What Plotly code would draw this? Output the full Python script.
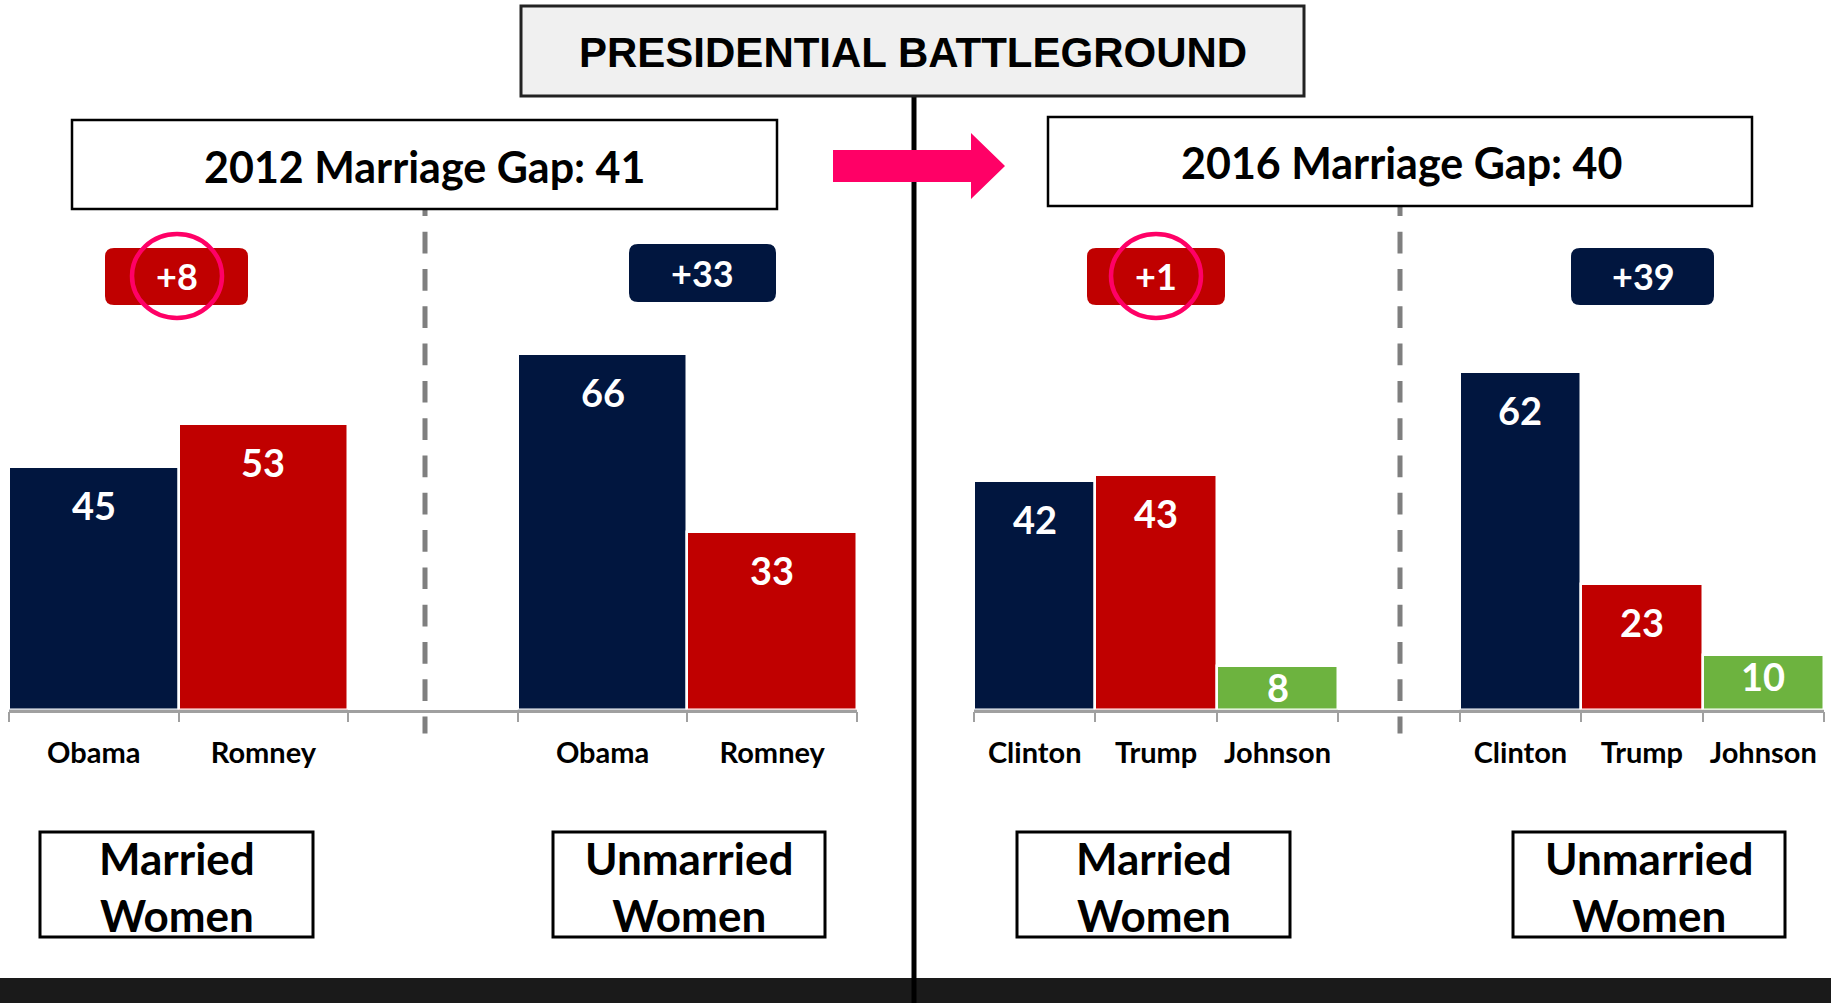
import plotly.graph_objects as go

# ---------------- data ----------------
title_text = "PRESIDENTIAL BATTLEGROUND"
years = [2012, 2016]
marriage_gaps = [41, 40]
group_labels = ["Married<br>Women", "Unmarried<br>Women"]

cands_2012 = ["Obama", "Romney"]
married_2012 = [45, 53]
unmarried_2012 = [66, 33]
margins_2012 = ["+8", "+33"]

cands_2016 = ["Clinton", "Trump", "Johnson"]
married_2016 = [42, 43, 8]
unmarried_2016 = [62, 23, 10]
margins_2016 = ["+1", "+39"]

NAVY = "#01163f"
RED = "#c00000"
GREEN = "#6db33f"
PINK = "#ff0066"
party_colors = {"Obama": NAVY, "Clinton": NAVY, "Romney": RED, "Trump": RED, "Johnson": GREEN}

# ---------------- helpers ----------------
W, H = 1831, 1003
FONT = "Lato, 'Open Sans', sans-serif"
TFONT = "'Liberation Sans', Arial, sans-serif"


def fx(p):
    return p / W


def fy(p):
    return 1 - p / H


shapes = []
annotations = []


def rect(x0, y0, x1, y1, fill="white", line="black", lw=3):
    shapes.append(dict(type="rect", xref="paper", yref="paper", x0=fx(x0), x1=fx(x1),
                       y0=fy(y1), y1=fy(y0), fillcolor=fill, line=dict(color=line, width=lw)))


def rounded(x0, y0, x1, y1, r, fill):
    rx, ry = r / W, r / H
    X0, X1, Y0, Y1 = fx(x0), fx(x1), fy(y1), fy(y0)
    path = (f"M {X0+rx},{Y0} L {X1-rx},{Y0} Q {X1},{Y0} {X1},{Y0+ry} "
            f"L {X1},{Y1-ry} Q {X1},{Y1} {X1-rx},{Y1} L {X0+rx},{Y1} Q {X0},{Y1} {X0},{Y1-ry} "
            f"L {X0},{Y0+ry} Q {X0},{Y0} {X0+rx},{Y0} Z")
    shapes.append(dict(type="path", xref="paper", yref="paper", path=path, fillcolor=fill,
                       line=dict(width=0)))


def text(x, y, s, size, color="black", family=FONT):
    annotations.append(dict(xref="paper", yref="paper", x=fx(x), y=fy(y), text=s, showarrow=False,
                            xanchor="center", yanchor="middle",
                            font=dict(family=family, size=size, color=color)))


fig = go.Figure()

BASE = 709.6


def add_panel(cands, married, unmarried, idx):
    n = len(cands)
    xs = list(range(n)) + list(range(n + 1, 2 * n + 1))
    vals = married + unmarried
    labels = cands + cands
    colors = [party_colors[c] for c in cands] * 2
    xa = "x" if idx == 1 else "x2"
    ya = "y" if idx == 1 else "y2"
    fig.add_trace(go.Bar(x=xs, y=vals, marker=dict(color=colors, line=dict(color="white", width=2.5)),
                         width=1, xaxis=xa, yaxis=ya, showlegend=False, hoverinfo="skip"))
    for xv, v in zip(xs, vals):
        annotations.append(dict(xref=xa, yref=ya, x=xv, y=v, text=f"<b>{v}</b>", showarrow=False,
                                yanchor="middle", xanchor="center",
                                yshift=-38 if v >= 20 else -21,
                                font=dict(family=FONT, size=38, color="white")))
    return xs, labels, [k - 0.5 for k in range(2 * n + 2)]


xs1, lab1, b1 = add_panel(cands_2012, married_2012, unmarried_2012, 1)
xs2, lab2, b2 = add_panel(cands_2016, married_2016, unmarried_2016, 2)


def xaxis_cfg(domain, xs, labels, bounds, anchor):
    return dict(domain=domain, anchor=anchor, range=[bounds[0], bounds[-1]], tickmode="array",
                tickvals=xs, ticktext=[f"<b>{l}</b>" for l in labels], ticks="", showline=True,
                linecolor="#a0a0a0", linewidth=2.5, showgrid=False, zeroline=False,
                ticklabelstandoff=16,
                tickfont=dict(family=FONT, size=29, color="black"),
                minor=dict(tickmode="array", tickvals=bounds, ticks="outside", ticklen=10,
                           tickcolor="#a0a0a0", tickwidth=2, showgrid=False))


ydom = [fy(BASE), 1]

# ---------------- decorations ----------------
# bottom band
rect(0, 978, W, H + 2, fill="#1a1a1a", line="#1a1a1a", lw=0)
# dashed separators (start hidden under the subtitle boxes)
for xd in (425, 1400):
    shapes.append(dict(type="line", xref="paper", yref="paper", x0=fx(xd), x1=fx(xd),
                       y0=fy(194.4), y1=fy(733.5),
                       line=dict(color="#7f7f7f", width=5, dash="21.7px,15.6px")))
# center vertical line
shapes.append(dict(type="line", xref="paper", yref="paper", x0=fx(914), x1=fx(914), y0=fy(96), y1=0,
                   line=dict(color="black", width=5)))
# pink arrow (drawn over the vertical line)
arrow = (f"M {fx(833)},{fy(150)} L {fx(971)},{fy(150)} L {fx(971)},{fy(133)} L {fx(1005)},{fy(166)} "
         f"L {fx(971)},{fy(199)} L {fx(971)},{fy(182)} L {fx(833)},{fy(182)} Z")
shapes.append(dict(type="path", xref="paper", yref="paper", path=arrow, fillcolor=PINK,
                   line=dict(width=0)))
# title box
rect(521, 6, 1304, 96, fill="#f0f0f0", line="#222222", lw=3)
text(913, 53, f"<b>{title_text}</b>", 42, family=TFONT)

# subtitle boxes
rect(72, 120, 777, 209, lw=2.5)
text(424, 166, f"<b>{years[0]} Marriage Gap: {marriage_gaps[0]}</b>", 43)
rect(1048, 117, 1752, 206, lw=2.5)
text(1401, 162, f"<b>{years[1]} Marriage Gap: {marriage_gaps[1]}</b>", 43)

# margin badges
badges = [
    (105, 248, 248, 305, RED, margins_2012[0], 177, True),
    (629, 244, 776, 302, NAVY, margins_2012[1], 702, False),
    (1087, 248, 1225, 305, RED, margins_2016[0], 1156, True),
    (1571, 248, 1714, 305, NAVY, margins_2016[1], 1643, False),
]
for x0, y0, x1, y1, col, s, cx, circ in badges:
    rounded(x0, y0, x1, y1, 9, col)
    text(cx, (y0 + y1) / 2, f"<b>{s}</b>", 36, color="white")
    if circ:
        shapes.append(dict(type="circle", xref="paper", yref="paper", x0=fx(cx - 45), x1=fx(cx + 45),
                           y0=fy(318), y1=fy(234), line=dict(color=PINK, width=4.5)))

# group label boxes
for (x0, x1), lab in zip([(40, 313), (553, 825), (1017, 1290), (1513, 1785)], group_labels * 2):
    rect(x0, 832, x1, 937, lw=3)
    text((x0 + x1) / 2, 886, f"<b>{lab}</b>", 44)

fig.update_layout(
    width=W, height=H, autosize=False, margin=dict(l=0, r=0, t=0, b=0, pad=0),
    paper_bgcolor="white", plot_bgcolor="white", bargap=0,
    xaxis=xaxis_cfg([fx(9), fx(857)], xs1, lab1, b1, "y"),
    xaxis2=xaxis_cfg([fx(974), fx(1824)], xs2, lab2, b2, "y2"),
    yaxis=dict(domain=ydom, range=[0, 131.6], visible=False),
    yaxis2=dict(domain=ydom, range=[0, 130.2], visible=False, anchor="x2"),
    shapes=shapes, annotations=annotations,
)

fig.write_html("out.html", config={"displayModeBar": False},
               post_script="document.body.style.margin='0';document.body.style.overflow='hidden';")
